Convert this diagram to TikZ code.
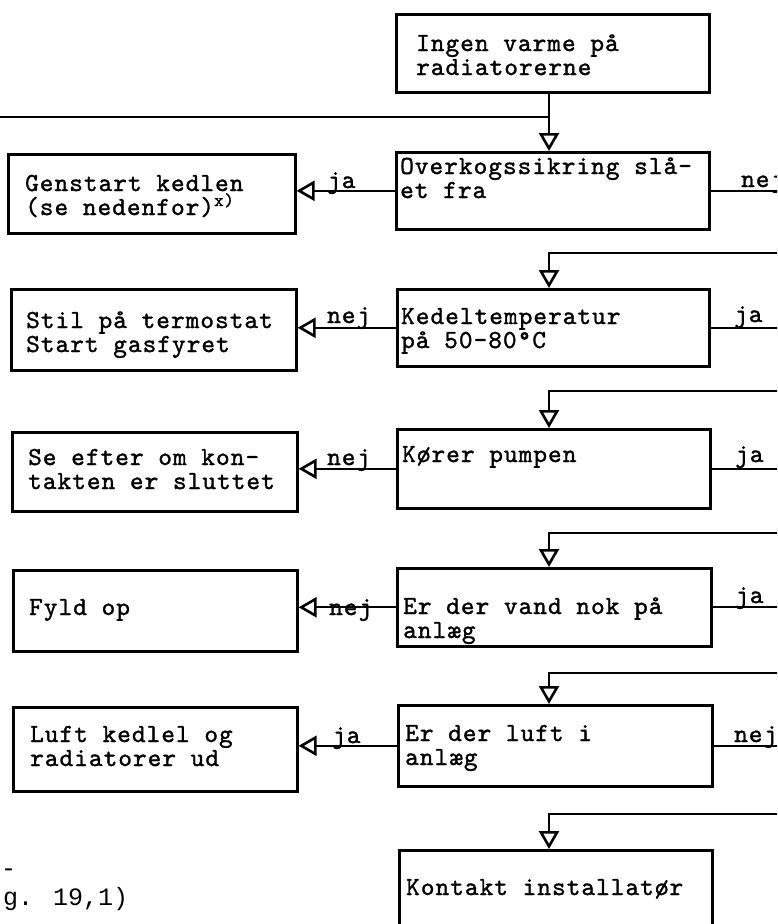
\documentclass[tikz,border=0pt]{standalone}
\usepackage{fontspec}
\newfontfamily\notefont{Liberation Mono}
\newfontfamily\tw{lmmono10-regular.otf}[FakeBold=1.3, LetterSpace=4]
\usetikzlibrary{arrows.meta}
\tikzset{
  box/.style n args={2}{draw, line width=2.6pt, inner sep=0pt, anchor=north west,
    minimum width=#1pt, minimum height=#2pt},
  txt/.style={font=\tw\fontsize{26}{24}\selectfont, anchor=base west, inner sep=0pt, align=left},
  lbl/.style={font=\tw\fontsize{26}{24}\selectfont, anchor=base west, inner sep=0pt},
  note/.style={font=\notefont\fontsize{25}{25}\selectfont, anchor=base west, inner sep=0pt},
  conn/.style={line width=2.2pt},
  arr/.style={conn, -{Triangle[open, length=18pt, width=20pt, line width=2.6pt]}}
}
\begin{document}
\begin{tikzpicture}[x=1pt,y=-1pt]
\clip (0,0) rectangle (777,924);
\fill[white] (0,0) rectangle (777,924);
% right column
\node[box={313}{78}]  (b0) at (395,13)  {};
\node[box={313}{77}]  (b1) at (395,151) {};
\node[box={312}{77}]  (b2) at (396,288) {};
\node[box={313}{79}]  (b3) at (396,428) {};
\node[box={314}{78}]  (b4) at (396,567) {};
\node[box={314}{81}]  (b5) at (397,704) {};
\node[box={313}{100}] (b6) at (398,849) {};
% left column
\node[box={287}{79}] (l1) at (7,153)  {};
\node[box={285}{81}] (l2) at (10,288) {};
\node[box={285}{79}] (l3) at (11,431) {};
\node[box={284}{81}] (l4) at (12,569) {};
\node[box={284}{84}] (l5) at (12,706) {};
% texts (base = baseline of last line)
\node[txt] (t0) at (416,75)  {Ingen varme på\\radiatorerne};
\node[txt] (t1) at (400,198) {Overkogssikring slå-\\et fra};
\node[txt] (t2) at (401,348) {Kedeltemperatur\\på 50-80°C};
\node[txt] (t3) at (402,462) {Kører pumpen};
\node[txt] (t4) at (403,638) {Er der vand nok på\\anlæg};
\node[txt] (t5) at (405,765) {Er der luft i\\anlæg};
\node[txt] (t6) at (406,895) {Kontakt installatør};
\node[txt] (s1) at (25,215)  {Genstart kedlen\\(se nedenfor)\textsuperscript{x)}};
\node[txt] (s2) at (26,352)  {Stil på termostat\\Start gasfyret};
\node[txt] (s3) at (28,489)  {Se efter om kon-\\takten er sluttet};
\node[txt] (s4) at (29,615)  {Fyld op};
\node[txt] (s5) at (30,766)  {Luft kedlel og\\radiatorer ud};
\node[note] (n1) at (1,876) {-};
\node[note] (n2) at (3,905) {g. 19,1)};
% coordinates
\coordinate (E)  at (790,0);
\coordinate (ax) at (549,0);
\coordinate (lt) at (-10,117);
\coordinate (r2) at (790,253);
\coordinate (r3) at (790,391);
\coordinate (r4) at (790,533);
\coordinate (r5) at (790,673);
\coordinate (r6) at (790,814);
% main flow
\draw[conn] (lt) -- (lt -| ax);
\draw[arr] (ax |- b0.south) -- (ax |- b1.north);
\draw[arr] (r2) -- (r2 -| ax) -- (ax |- b2.north);
\draw[arr] (r3) -- (r3 -| ax) -- (ax |- b3.north);
\draw[arr] (r4) -- (r4 -| ax) -- (ax |- b4.north);
\draw[arr] (r5) -- (r5 -| ax) -- (ax |- b5.north);
\draw[arr] (r6) -- (r6 -| ax) -- (ax |- b6.north);
% right exits
\draw[conn] (b1.east) -- (b1.east -| E);
\draw[conn] (b2.east) -- (b2.east -| E);
\draw[conn] (b3.east) -- (b3.east -| E);
\draw[conn] (b4.east) -- (b4.east -| E);
\draw[conn] (b5.east) -- (b5.east -| E);
% left arrows
\draw[arr] (b1.west) -- (l1.east |- b1.west);
\draw[arr] (b2.west) -- (l2.east |- b2.west);
\draw[arr] (b3.west) -- (l3.east |- b3.west);
\draw[arr] (b4.west) -- (l4.east |- b4.west);
\draw[arr] (b5.west) -- (l5.east |- b5.west);
% labels
\node[lbl] (la1) at (327,188) {ja};
\node[lbl] (la2) at (327,323) {nej};
\node[lbl] (la3) at (327,465) {nej};
\node[lbl] (la4) at (329,615) {nej};
\node[lbl] (la5) at (332,743) {ja};
\node[lbl] (ra1) at (741,187) {nej};
\node[lbl] (ra2) at (734,322) {ja};
\node[lbl] (ra3) at (735,462) {ja};
\node[lbl] (ra4) at (735,603) {ja};
\node[lbl] (ra5) at (734,742) {nej};
\end{tikzpicture}
\end{document}
